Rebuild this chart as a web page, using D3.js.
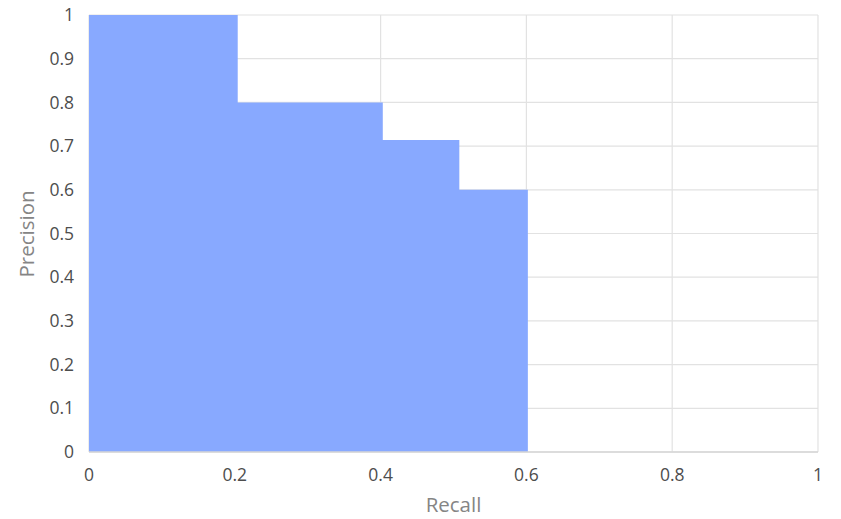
<!DOCTYPE html>
<html>
<head>
<meta charset="utf-8">
<script src="https://cdn.jsdelivr.net/npm/d3@7"></script>
<style>
  body { margin: 0; background: #fff; }
  svg text { font-family: "Open Sans", sans-serif; }
</style>
</head>
<body>
<svg id="chart" width="841" height="519"></svg>
<script>
// step ends (recall) and precision held up to that recall
var recall = [0, 0.204, 0.403, 0.508, 0.602];
var precision = [1, 1, 0.8, 0.714, 0.6];
var xTicks = [0, 0.2, 0.4, 0.6, 0.8, 1];
var yTicks = [0, 0.1, 0.2, 0.3, 0.4, 0.5, 0.6, 0.7, 0.8, 0.9, 1];

var svg = d3.select("#chart"),
  margin = { top: 15, right: 23, bottom: 67, left: 89 },
  width = 841 - margin.left - margin.right,
  height = 519 - margin.top - margin.bottom;

var x = d3.scaleLinear().domain([0, 1]).range([0, width]);
var y = d3.scaleLinear().domain([0, 1]).range([height, 0]);

var g = svg.append("g").attr("transform", `translate(${margin.left},${margin.top})`);

// grid lines
g.selectAll(".hgrid").data(yTicks).enter().append("line")
  .attr("x1", 0).attr("x2", width)
  .attr("y1", d => y(d)).attr("y2", d => y(d))
  .attr("stroke", "#e2e2e2").attr("stroke-width", 1.2);

g.selectAll(".vgrid").data(xTicks).enter().append("line")
  .attr("x1", d => x(d)).attr("x2", d => x(d))
  .attr("y1", 0).attr("y2", height)
  .attr("stroke", "#e2e2e2").attr("stroke-width", 1.2);

// step area: each point holds precision until its recall
var pts = recall.map((r, i) => ({ r: r, p: precision[i] }));
var area = d3.area()
  .curve(d3.curveStepBefore)
  .x(d => x(d.r))
  .y0(y(0))
  .y1(d => y(d.p));

g.append("path")
  .datum(pts)
  .attr("d", area)
  .attr("fill", "#88a9ff");

// bottom axis line
g.append("line")
  .attr("x1", 0).attr("x2", width)
  .attr("y1", height).attr("y2", height)
  .attr("stroke", "#d6d6d6").attr("stroke-width", 1.5);

// tick labels
g.selectAll(".ylab").data(yTicks).enter().append("text")
  .attr("x", -15).attr("y", d => y(d))
  .attr("dy", "0.35em")
  .attr("text-anchor", "end")
  .attr("font-size", 17.5)
  .attr("fill", "#4d4d4d")
  .text(d => d);

g.selectAll(".xlab").data(xTicks).enter().append("text")
  .attr("x", d => x(d)).attr("y", height + 23)
  .attr("dy", "0.35em")
  .attr("text-anchor", "middle")
  .attr("font-size", 17.5)
  .attr("fill", "#4d4d4d")
  .text(d => d);

// axis titles
svg.append("text")
  .attr("x", margin.left + width / 2).attr("y", 505)
  .attr("dy", "0.35em")
  .attr("text-anchor", "middle")
  .attr("font-size", 20.5)
  .attr("fill", "#858585")
  .text("Recall");

svg.append("text")
  .attr("transform", "translate(27,234) rotate(-90)")
  .attr("dy", "0.35em")
  .attr("text-anchor", "middle")
  .attr("font-size", 20.5)
  .attr("fill", "#858585")
  .text("Precision");
</script>
</body>
</html>
